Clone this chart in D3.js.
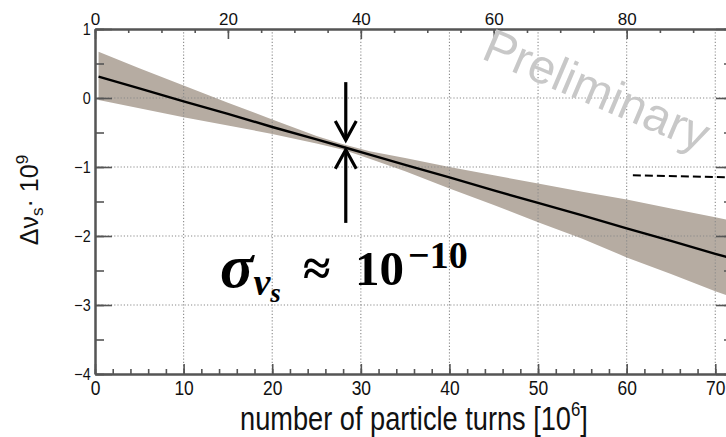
<!DOCTYPE html>
<html>
<head>
<meta charset="utf-8">
<script src="https://cdn.jsdelivr.net/npm/d3@7"></script>
<style>
  body { margin: 0; background: #fff; }
</style>
</head>
<body>
<svg id="chart" width="726" height="437" font-family="Liberation Sans, Arial, sans-serif"></svg>
<script>
// values (turns in 10^6, delta nu_s in 10^-9)
const turns      = [0.4, 5, 10, 15, 20, 25, 28, 31, 35, 40, 45, 50, 55, 60, 65, 70, 72];
const fitValues  = [0.31, 0.14, -0.05, -0.23, -0.42, -0.60, -0.71, -0.82, -0.97, -1.15, -1.34, -1.52, -1.70, -1.89, -2.07, -2.26, -2.33];
const bandUpper  = [0.67, 0.43, 0.18, -0.07, -0.31, -0.55, -0.67, -0.77, -0.87, -1.00, -1.12, -1.24, -1.36, -1.47, -1.60, -1.73, -1.78];
const bandLower  = [-0.03, -0.15, -0.28, -0.40, -0.52, -0.66, -0.75, -0.88, -1.06, -1.31, -1.55, -1.80, -2.04, -2.31, -2.55, -2.80, -2.89];

const bottomTicks = [0, 10, 20, 30, 40, 50, 60, 70];
const topTicks    = [0, 20, 40, 60, 80];
const leftTicks   = [-4, -3, -2, -1, 0, 1];
const gridY       = [-3, -2, -1, 0];

// annotation: arrows at the narrowest point, dashed marker line
const arrowX    = 28.3;
const arrowDown = [0.23, -0.61];
const arrowUp   = [-1.81, -0.75];
const dashX     = [60.7, 72];
const dashY     = [-1.12, -1.15];

const margin = { top: 29, left: 95 };
const plotW = 638, plotH = 345;

const svg = d3.select("#chart");

const x = d3.scaleLinear().domain([0, 72]).range([margin.left, margin.left + plotW]);
const xTop = d3.scaleLinear().domain([0, 96]).range([margin.left, margin.left + plotW]);
const y = d3.scaleLinear().domain([-4, 1]).range([margin.top + plotH, margin.top]);

svg.append("defs").append("clipPath").attr("id", "clip")
    .append("rect")
    .attr("x", margin.left).attr("y", margin.top)
    .attr("width", plotW).attr("height", plotH);

const rows = turns.map((t, i) => ({ t: t, fit: fitValues[i], hi: bandUpper[i], lo: bandLower[i] }));

const plot = svg.append("g").attr("clip-path", "url(#clip)");

// confidence band
plot.append("path")
    .datum(rows)
    .attr("fill", "#b6aca2")
    .attr("d", d3.area().x(d => x(d.t)).y0(d => y(d.lo)).y1(d => y(d.hi)));

// dotted grid
plot.selectAll(".gx").data(bottomTicks.filter(d => d > 0)).enter().append("line")
    .attr("x1", d => x(d)).attr("x2", d => x(d))
    .attr("y1", margin.top).attr("y2", margin.top + plotH)
    .attr("stroke", "#8a8a8a").attr("stroke-width", 1.1).attr("stroke-dasharray", "1.2,2");
plot.selectAll(".gy").data(gridY).enter().append("line")
    .attr("x1", margin.left).attr("x2", margin.left + plotW)
    .attr("y1", d => y(d)).attr("y2", d => y(d))
    .attr("stroke", "#8a8a8a").attr("stroke-width", 1.1).attr("stroke-dasharray", "1.2,2");

// fit line
plot.append("path")
    .datum(rows)
    .attr("fill", "none")
    .attr("stroke", "#000")
    .attr("stroke-width", 2.4)
    .attr("d", d3.line().x(d => x(d.t)).y(d => y(d.fit)));

// dashed marker on the right
plot.append("line")
    .attr("x1", x(dashX[0])).attr("x2", x(dashX[1]))
    .attr("y1", y(dashY[0])).attr("y2", y(dashY[1]))
    .attr("stroke", "#000").attr("stroke-width", 2).attr("stroke-dasharray", "8,4");

// axes: minor + major ticks
function styleAxis(g) {
    g.attr("font-family", null);
    g.selectAll("path.domain").attr("stroke", "#555").attr("stroke-width", 2);
    g.selectAll(".tick line").attr("stroke", "#555").attr("stroke-width", 1.6);
    g.selectAll("text").attr("fill", "#111");
}

svg.append("g").attr("transform", `translate(0,${margin.top + plotH})`)
    .call(d3.axisBottom(x).tickValues(d3.range(0, 73, 2)).tickSize(-5).tickSizeOuter(0).tickFormat(""))
    .call(styleAxis);
const gb = svg.append("g").attr("transform", `translate(0,${margin.top + plotH})`)
    .call(d3.axisBottom(x).tickValues(bottomTicks).tickSize(-10).tickSizeOuter(0).tickPadding(6))
    .call(styleAxis);
gb.attr("font-size", 21);
gb.selectAll("text").attr("transform", "scale(0.83,1)");

svg.append("g").attr("transform", `translate(0,${margin.top})`)
    .call(d3.axisTop(xTop).tickValues(d3.range(0, 97, 5)).tickSize(-4).tickSizeOuter(0).tickFormat(""))
    .call(styleAxis);
const gt = svg.append("g").attr("transform", `translate(0,${margin.top})`)
    .call(d3.axisTop(xTop).tickValues(topTicks).tickSize(-10).tickSizeOuter(0).tickPadding(4))
    .call(styleAxis);
gt.attr("font-size", 17);

svg.append("g").attr("transform", `translate(${margin.left},0)`)
    .call(d3.axisLeft(y).tickValues(d3.range(-4, 1.01, 0.5)).tickSize(-9).tickSizeOuter(0).tickFormat(""))
    .call(styleAxis);
const gl = svg.append("g").attr("transform", `translate(${margin.left},0)`)
    .call(d3.axisLeft(y).tickValues(leftTicks).tickSize(-17).tickSizeOuter(0).tickPadding(5).tickFormat(d3.format("d")))
    .call(styleAxis);
gl.attr("font-size", 16.5);
gl.selectAll("text").attr("transform", "scale(0.87,1)");

svg.append("g").attr("transform", `translate(${margin.left + plotW},0)`)
    .call(d3.axisRight(y).tickValues(d3.range(-4, 1.01, 0.5)).tickSize(-9).tickSizeOuter(0).tickFormat(""))
    .call(styleAxis);
svg.append("g").attr("transform", `translate(${margin.left + plotW},0)`)
    .call(d3.axisRight(y).tickValues(leftTicks).tickSize(-17).tickSizeOuter(0).tickFormat(""))
    .call(styleAxis);

// axis titles
const xt = svg.append("text")
    .attr("transform", "translate(414,430) scale(0.8,1)")
    .attr("text-anchor", "middle")
    .attr("font-size", 34)
    .attr("fill", "#111");
xt.append("tspan").text("number of particle turns [10");
xt.append("tspan").attr("font-size", 21).attr("dy", -14).text("6");
xt.append("tspan").attr("dy", 14).text("]");

const yt = svg.append("text")
    .attr("transform", "translate(38,200) rotate(-90)")
    .attr("text-anchor", "middle")
    .attr("font-size", 25)
    .attr("fill", "#111");
yt.append("tspan").text("Δν");
yt.append("tspan").attr("font-size", 17).attr("dy", 5).text("s");
yt.append("tspan").attr("dy", -5).text("· 10");
yt.append("tspan").attr("font-size", 17).attr("dy", -10).text("9");

// watermark
svg.append("text")
    .attr("transform", "translate(480,58) rotate(23)")
    .attr("font-size", 48)
    .attr("fill", "#c8c8c8")
    .text("Preliminary");

// arrows
const arrows = svg.append("g").attr("stroke", "#000").attr("stroke-width", 3.2).attr("fill", "none");
[arrowDown, arrowUp].forEach(a => {
    const x0 = x(arrowX), y0 = y(a[0]), y1 = y(a[1]);
    const dir = y1 > y0 ? 1 : -1;
    arrows.append("line").attr("x1", x0).attr("x2", x0).attr("y1", y0).attr("y2", y1);
    arrows.append("polyline")
        .attr("points", `${x0 - 10.5},${y1 - dir * 19} ${x0},${y1} ${x0 + 10.5},${y1 - dir * 19}`);
});

// sigma annotation
const st = svg.append("text")
    .attr("font-family", "Liberation Serif, DejaVu Serif, serif")
    .attr("font-weight", "bold")
    .attr("fill", "#000")
    .attr("y", 287);
st.append("tspan").attr("x", 220).attr("font-style", "italic").attr("font-size", 62).text("σ");
st.append("tspan").attr("font-style", "italic").attr("font-size", 38).attr("dy", 8).text("v");
st.append("tspan").attr("font-style", "italic").attr("font-size", 27).attr("dy", 7).text("s");
st.append("tspan").attr("x", 303).attr("y", 285).attr("font-size", 50).text("≈");
st.append("tspan").attr("x", 355).attr("y", 285).attr("font-size", 49).text("10");
st.append("tspan").attr("x", 408).attr("y", 268).attr("font-size", 38).text("−10");
</script>
</body>
</html>
